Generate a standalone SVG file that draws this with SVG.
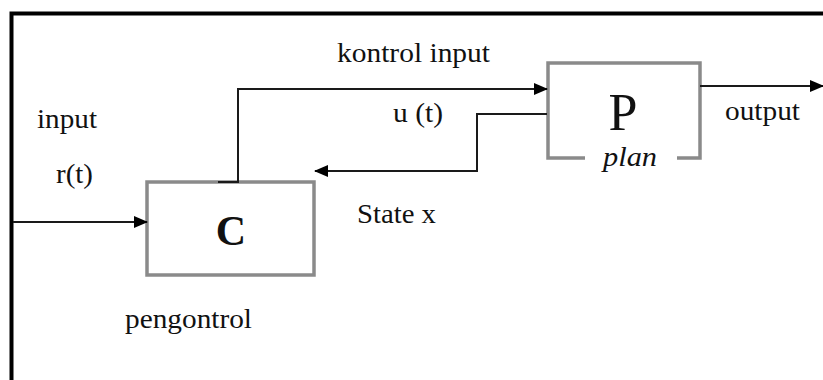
<svg xmlns="http://www.w3.org/2000/svg" width="823" height="380" viewBox="0 0 823 380">
  <style>
    .frame { fill: none; stroke: #000; stroke-width: 4; }
    .block { fill: none; stroke: #8a8a8a; stroke-width: 3.5; }
    .wire { fill: none; stroke: #1a1a1a; stroke-width: 2; }
    .lbl { font-family: "Liberation Serif", "Times New Roman", serif; font-size: 28px; fill: #111; }
    .big { font-family: "Liberation Serif", "Times New Roman", serif; fill: #111; }
  </style>
  <defs>
    <marker id="arrow" markerUnits="userSpaceOnUse" markerWidth="14" markerHeight="12" refX="13" refY="6" orient="auto">
      <path d="M0,0 L14,6 L0,12 Z" fill="#000"/>
    </marker>
  </defs>

  <rect width="823" height="380" fill="#fff"/>

  <!-- outer frame, open to the right and bottom -->
  <path class="frame" d="M11.5,380 V13.5 H823"/>

  <!-- controller block -->
  <g id="controller">
    <rect class="block" x="147" y="182" width="167" height="93"/>
    <text class="big" x="231" y="245" font-size="42" font-weight="bold" text-anchor="middle">C</text>
    <text class="lbl" x="125" y="328" textLength="127" lengthAdjust="spacingAndGlyphs">pengontrol</text>
  </g>

  <!-- plant block, bottom edge broken by its caption -->
  <g id="plant">
    <path class="block" d="M585,158 H548 V63 H700 V158 H677"/>
    <text class="big" x="623" y="130" font-size="52" text-anchor="middle">P</text>
    <text class="lbl" x="603" y="166" font-style="italic" textLength="54" lengthAdjust="spacingAndGlyphs">plan</text>
  </g>

  <!-- signal lines -->
  <g id="connectors">
    <path class="wire" d="M13,222 H147" marker-end="url(#arrow)"/>
    <path class="wire" d="M218,182 H238 V89 H547" marker-end="url(#arrow)"/>
    <path class="wire" d="M547,114 H477 V171 H315" marker-end="url(#arrow)"/>
    <path class="wire" d="M700,86 H823" marker-end="url(#arrow)"/>
  </g>

  <!-- signal labels -->
  <g id="labels">
    <text class="lbl" x="37" y="128" textLength="60" lengthAdjust="spacingAndGlyphs">input</text>
    <text class="lbl" x="56" y="183" textLength="37" lengthAdjust="spacingAndGlyphs">r(t)</text>
    <text class="lbl" x="337" y="62" textLength="153" lengthAdjust="spacingAndGlyphs">kontrol input</text>
    <text class="lbl" x="393" y="122" textLength="50" lengthAdjust="spacingAndGlyphs">u (t)</text>
    <text class="lbl" x="357" y="223" textLength="79" lengthAdjust="spacingAndGlyphs">State x</text>
    <text class="lbl" x="725" y="120" textLength="75" lengthAdjust="spacingAndGlyphs">output</text>
  </g>
</svg>
